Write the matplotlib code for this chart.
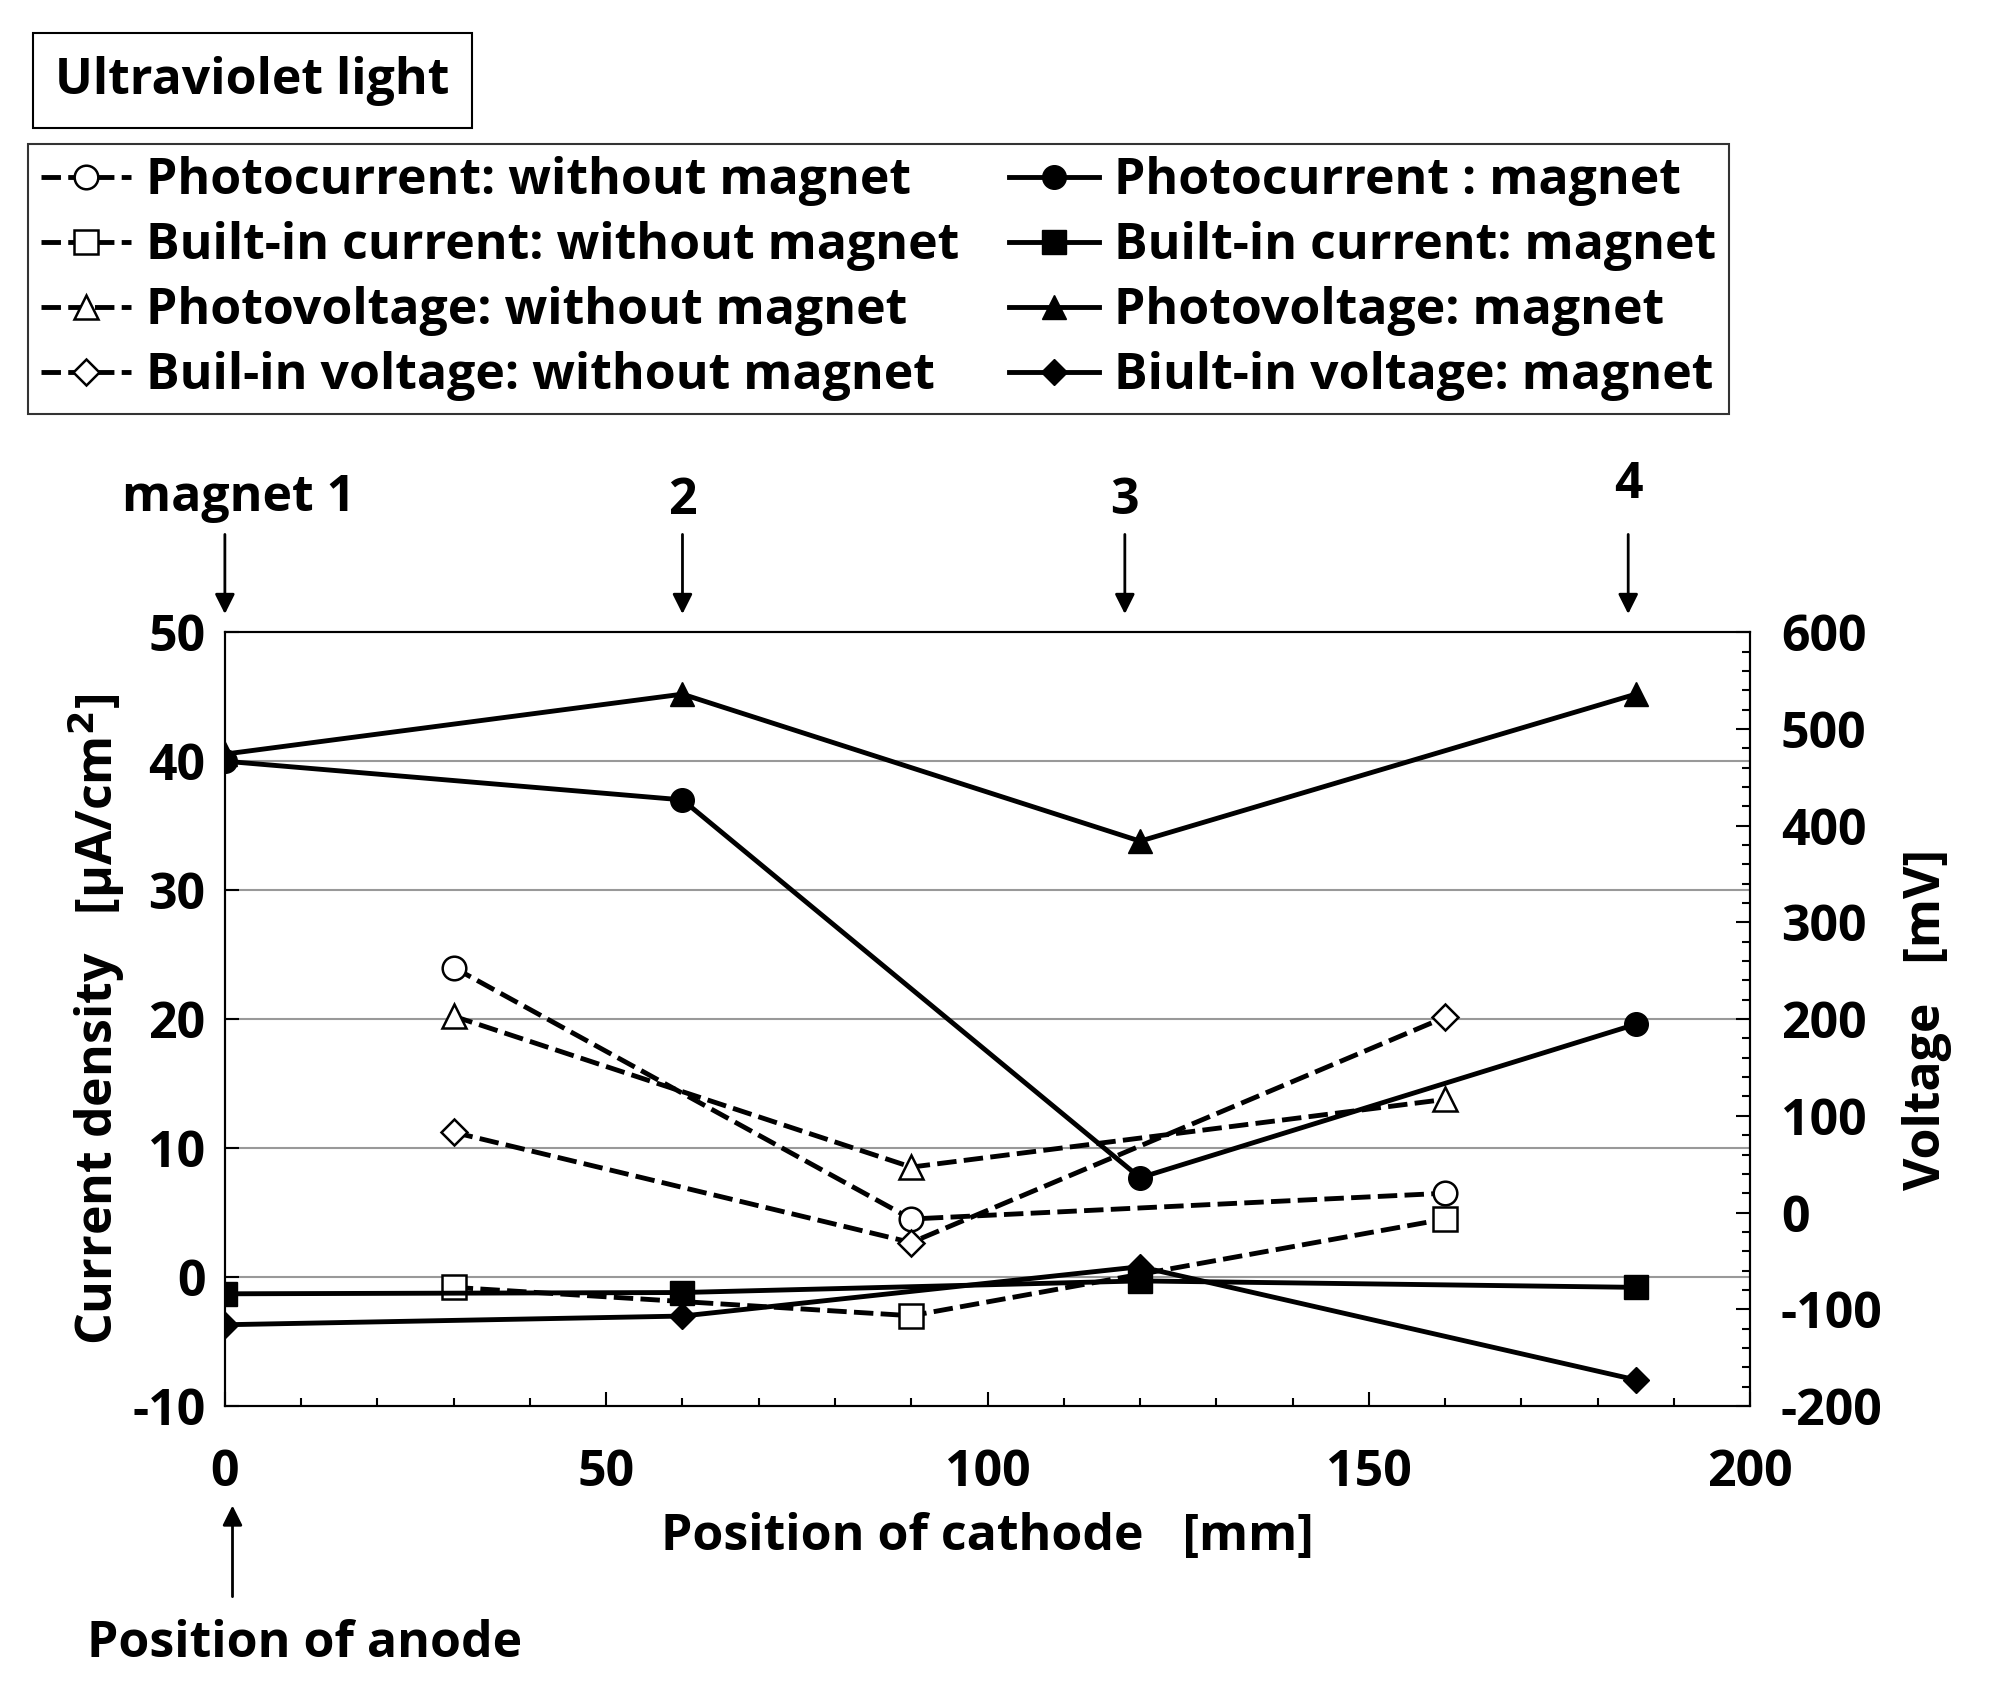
import matplotlib
matplotlib.use("Agg")
import matplotlib.pyplot as plt
from matplotlib.lines import Line2D
from matplotlib.ticker import MultipleLocator

plt.rcParams['font.family'] = ['Open Sans', 'DejaVu Sans']
plt.rcParams['font.weight'] = 'bold'
plt.rcParams['axes.unicode_minus'] = False

x_wo = [30, 90, 160]
pc_wo = [24, 4.5, 6.5]
bc_wo = [-0.8, -3, 4.5]
pv_wo = [203, 47, 117]
bv_wo = [83, -31, 202]

x_m = [0, 60, 120, 185]
pc_m = [40, 37, 7.7, 19.6]
bc_m = [-1.3, -1.2, -0.3, -0.8]
pv_m = [474, 536, 384, 536]
bv_m = [-116, -107, -56, -173]

magnet_x = [0, 60, 118, 184]
magnet_labels = ["magnet 1", "2", "3", "4"]

fig = plt.figure(figsize=(20.15, 16.95), dpi=100)
ax = fig.add_axes([0.1116, 0.1705, 0.757, 0.4565])
ax2 = ax.twinx()

fs = 36
ms = 17
lw = 3.5
kw_wo = dict(color='black', ls=(0, (4, 1.5)), lw=lw, ms=ms, mfc='white', mec='black', mew=1.8)
kw_m = dict(color='black', ls='-', lw=lw, ms=ms, mfc='black', mec='black')

ax.plot(x_wo, pc_wo, marker='o', **kw_wo)
ax.plot(x_wo, bc_wo, marker='s', **kw_wo)
ax2.plot(x_wo, pv_wo, marker='^', **kw_wo)
ax2.plot(x_wo, bv_wo, marker='D', **{**kw_wo, 'ms': 13})
ax.plot(x_m, pc_m, marker='o', **kw_m)
ax.plot(x_m, bc_m, marker='s', **kw_m)
ax2.plot(x_m, pv_m, marker='^', **kw_m)
ax2.plot(x_m, bv_m, marker='D', **{**kw_m, 'ms': 13})

ax.set_xlim(0, 200)
ax.set_ylim(-10, 50)
ax2.set_ylim(-200, 600)
ax.set_yticks(range(-10, 51, 10))
ax2.set_yticks(range(-200, 601, 100))
ax.xaxis.set_major_locator(MultipleLocator(50))
ax.xaxis.set_minor_locator(MultipleLocator(10))
ax2.yaxis.set_minor_locator(MultipleLocator(20))
for y in range(0, 41, 10):
    ax.axhline(y, color='#999999', lw=1.5, zorder=0)
ax.tick_params(axis='both', which='both', direction='in', labelsize=fs, width=1.5)
ax.tick_params(which='major', length=10)
ax.tick_params(which='minor', length=6)
ax2.tick_params(which='both', direction='in', labelsize=fs, width=1.5, pad=22)
ax2.tick_params(which='major', length=10)
ax2.tick_params(which='minor', length=6)
ax.tick_params(axis='x', pad=30)
ax.tick_params(axis='y', pad=14)
for a in (ax, ax2):
    for s in a.spines.values():
        s.set_linewidth(1.5)
    for lab in a.get_xticklabels() + a.get_yticklabels():
        lab.set_fontweight('bold')

ax.set_xlabel("Position of cathode   [mm]", fontsize=fs, fontweight='bold', labelpad=10)
ax.set_ylabel("Current density   [μA/cm$^\\mathbf{2}$]", fontsize=fs, fontweight='bold')
ax2.set_ylabel("Voltage   [mV]", fontsize=fs, fontweight='bold', labelpad=14)

for xm, lab in zip(magnet_x, magnet_labels):
    ax.annotate("", xy=(xm, 1.02), xytext=(xm, 1.13), xycoords=('data', 'axes fraction'),
                arrowprops=dict(arrowstyle='-|>', color='black', lw=2, mutation_scale=30))
    if lab == "magnet 1":
        fig.text(95/1568, 1-388/1320, lab, fontsize=fs, fontweight='bold', va='center')
    else:
        ty = 1.19 if lab == "4" else 1.17
        ax.text(xm, ty, lab, transform=ax.get_xaxis_transform(), ha='center', va='center',
                fontsize=fs, fontweight='bold')

ax.annotate("", xy=(1, -0.125), xytext=(1, -0.25), xycoords=('data', 'axes fraction'),
            arrowprops=dict(arrowstyle='-|>', color='black', lw=2, mutation_scale=30))
fig.text(68/1568, 1-1280/1320, "Position of anode", fontsize=fs, fontweight='bold', va='center')

fig.text(43/1568, 1-63/1320, "Ultraviolet light", fontsize=fs, fontweight='bold', va='center',
         bbox=dict(boxstyle='square,pad=0.45', fc='white', ec='black', lw=1.5))

h = [Line2D([], [], marker='o', **kw_wo), Line2D([], [], marker='s', **kw_wo),
     Line2D([], [], marker='^', **kw_wo), Line2D([], [], marker='D', **{**kw_wo, 'ms': 13}),
     Line2D([], [], marker='o', **kw_m), Line2D([], [], marker='s', **kw_m),
     Line2D([], [], marker='^', **kw_m), Line2D([], [], marker='D', **{**kw_m, 'ms': 13})]
labels = ["Photocurrent: without magnet", "Built-in current: without magnet",
          "Photovoltage: without magnet", "Buil-in voltage: without magnet",
          "Photocurrent : magnet", "Built-in current: magnet",
          "Photovoltage: magnet", "Biult-in voltage: magnet"]
leg = fig.legend(h, labels, ncol=2, loc='upper left', bbox_to_anchor=(22/1568, 1-112/1320),
                 prop=dict(size=fs, weight='bold'), frameon=True, fancybox=False,
                 edgecolor='black', handlelength=1.8, handletextpad=0.3, columnspacing=1.0,
                 labelspacing=0.3, borderpad=0.25, borderaxespad=0)
leg.get_frame().set_linewidth(1.5)

fig.savefig("out.png", dpi=100)
